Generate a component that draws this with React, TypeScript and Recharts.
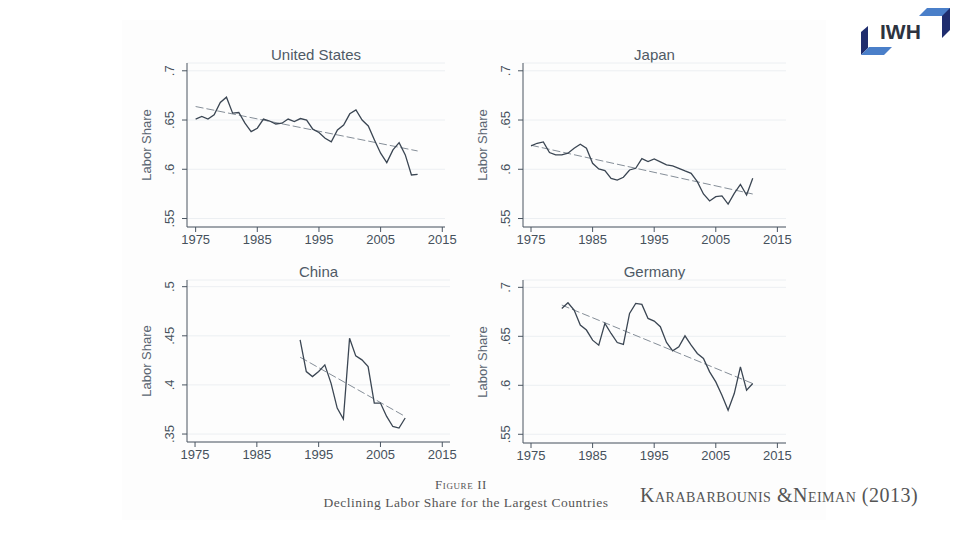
import React from 'react';
import { LineChart, Line, XAxis, YAxis, CartesianGrid } from 'recharts';

// years on the horizontal axis
const yearsFull = [
  1975, 1976, 1977, 1978, 1979, 1980, 1981, 1982, 1983, 1984, 1985, 1986, 1987,
  1988, 1989, 1990, 1991, 1992, 1993, 1994, 1995, 1996, 1997, 1998, 1999, 2000,
  2001, 2002, 2003, 2004, 2005, 2006, 2007, 2008, 2009, 2010, 2011,
];
const yearsChina = [
  1992, 1993, 1994, 1995, 1996, 1997, 1998, 1999, 2000, 2001, 2002, 2003, 2004,
  2005, 2006, 2007, 2008, 2009,
];
const yearsGermany = [
  1980, 1981, 1982, 1983, 1984, 1985, 1986, 1987, 1988, 1989, 1990, 1991, 1992,
  1993, 1994, 1995, 1996, 1997, 1998, 1999, 2000, 2001, 2002, 2003, 2004, 2005,
  2006, 2007, 2008, 2009, 2010, 2011,
];

// labor share
const usShare = [
  0.651, 0.6536, 0.651, 0.6553, 0.6678, 0.6732, 0.657, 0.6576, 0.6468, 0.6383,
  0.6417, 0.651, 0.649, 0.646, 0.6468, 0.651, 0.6485, 0.6515, 0.65, 0.6407,
  0.6373, 0.6315, 0.6278, 0.64, 0.645, 0.6563, 0.6603, 0.65, 0.644, 0.6298,
  0.6163, 0.6068, 0.6197, 0.6271, 0.6146, 0.5942, 0.5949,
];
const japanShare = [
  0.6237, 0.6264, 0.6278, 0.617, 0.6146, 0.6146, 0.6163, 0.6214, 0.6254, 0.6214,
  0.6061, 0.6003, 0.5986, 0.5908, 0.5891, 0.5919, 0.5993, 0.601, 0.6108, 0.6078,
  0.6105, 0.6075, 0.6044, 0.6034, 0.601, 0.5983, 0.5959, 0.5875, 0.5749, 0.5678,
  0.5722, 0.5729, 0.5647, 0.5756, 0.5847, 0.5739, 0.5908,
];
const chinaShare = [
  0.4458, 0.4136, 0.4085, 0.4136, 0.4204, 0.4018, 0.3764, 0.3652, 0.4475, 0.4296,
  0.4255, 0.4187, 0.3815, 0.3815, 0.3679, 0.3577, 0.3561, 0.3663,
];
const germanyShare = [
  0.6785, 0.6843, 0.6768, 0.6615, 0.6564, 0.6461, 0.641, 0.6632, 0.6529, 0.6437,
  0.6417, 0.6734, 0.6836, 0.6826, 0.6683, 0.6656, 0.6598, 0.6437, 0.6352, 0.6393,
  0.6505, 0.641, 0.6325, 0.6274, 0.6137, 0.6035, 0.5899, 0.5745, 0.5916, 0.6188,
  0.595, 0.6018,
];

// fitted trend, value at first and last year
const usTrend = [0.6637, 0.6186];
const japanTrend = [0.6244, 0.5749];
const chinaTrend = [0.4282, 0.3679];
const germanyTrend = [0.6819, 0.6018];

const xTicks = [1975, 1985, 1995, 2005, 2015];
const yTicksMain = [0.55, 0.6, 0.65, 0.7];
const yTicksChina = [0.35, 0.4, 0.45, 0.5];

const FONT = '"Liberation Sans", Arial, sans-serif';
const SERIF = '"Liberation Serif", "DejaVu Serif", serif';
const AXIS = '#4a5561';
const TEXT = '#46515c';

const buildRows = (years: number[], share: number[], trend: number[]) =>
  years.map((year, i) => ({
    year,
    share: share[i],
    trend: i === 0 ? trend[0] : i === years.length - 1 ? trend[1] : null,
  }));

const fmtShare = (v: number) => String(Number(v.toFixed(2))).replace(/^0/, '');

const YTick = (props: any) => {
  const { x, y, payload } = props;
  const bx = x - 6;
  return (
    <text
      x={bx}
      y={y}
      transform={`rotate(-90 ${bx} ${y})`}
      textAnchor="middle"
      fontSize={13}
      fontFamily={FONT}
      fill={TEXT}
    >
      {fmtShare(payload.value)}
    </text>
  );
};

interface PanelProps {
  title: string;
  rows: { year: number; share: number; trend: number | null }[];
  xDomain: [number, number];
  yDomain: [number, number];
  yTicks: number[];
  plotLeft: number;
  plotTop: number;
  plotW: number;
  plotH: number;
}

const AXIS_W = 57;
const TOP_M = 25;
const BOTTOM_H = 25;
const RIGHT_M = 24;

const Panel: React.FC<PanelProps> = ({ title, rows, xDomain, yDomain, yTicks, plotLeft, plotTop, plotW, plotH }) => {
  const left = plotLeft - AXIS_W;
  const top = plotTop - TOP_M;
  return (
    <>
      <div
        style={{
          position: 'absolute',
          left: plotLeft + plotW / 2 - 100,
          top: plotTop - 17,
          width: 200,
          textAlign: 'center',
          fontFamily: FONT,
          fontSize: 15,
          color: '#4f5a66',
          lineHeight: '18px',
        }}
      >
        {title}
      </div>
      <div
        style={{
          position: 'absolute',
          left: plotLeft - 40 - 50,
          top: plotTop + plotH / 2 - 9,
          width: 100,
          textAlign: 'center',
          fontFamily: FONT,
          fontSize: 13,
          color: '#5a6571',
          lineHeight: '18px',
          transform: 'rotate(-90deg)',
        }}
      >
        Labor Share
      </div>
      <div style={{ position: 'absolute', left, top }}>
        <LineChart
          width={AXIS_W + plotW + RIGHT_M}
          height={TOP_M + plotH + BOTTOM_H}
          data={rows}
          margin={{ top: TOP_M, right: RIGHT_M, left: 0, bottom: 0 }}
        >
          <CartesianGrid vertical={false} stroke="#eceff2" strokeWidth={1} />
          <XAxis
            dataKey="year"
            type="number"
            domain={xDomain}
            allowDataOverflow
            ticks={xTicks}
            interval={0}
            height={BOTTOM_H}
            tickSize={5}
            tickMargin={3}
            stroke={AXIS}
            tick={{ fontSize: 13, fontFamily: FONT, fill: TEXT }}
          />
          <YAxis
            type="number"
            domain={yDomain}
            allowDataOverflow
            ticks={yTicks}
            interval={0}
            width={AXIS_W}
            tickSize={5}
            tickMargin={2}
            stroke={AXIS}
            tick={<YTick />}
          />
          <Line
            dataKey="trend"
            stroke="#858e98"
            strokeWidth={1}
            strokeDasharray="8 3"
            dot={false}
            connectNulls
            isAnimationActive={false}
          />
          <Line
            dataKey="share"
            stroke="#3b4653"
            strokeWidth={1.3}
            dot={false}
            isAnimationActive={false}
          />
        </LineChart>
      </div>
    </>
  );
};

const Logo = () => (
  <svg width={100} height={60} style={{ position: 'absolute', left: 855, top: 0 }}>
    <polygon points="87,8 95,8 95,30 87,38" fill="#1f2d6e" />
    <polygon points="72,8 95,8 87,16 64,16" fill="#4a7fc9" />
    <polygon points="6,32 13,26 13,48 6,55" fill="#1f2d6e" />
    <polygon points="14,47 37,47 29,55 6,55" fill="#4a7fc9" />
    <text x={25} y={39} fontFamily={FONT} fontWeight="bold" fontSize={21} fill="#2d3340">
      IWH
    </text>
  </svg>
);

export default function App() {
  return (
    <div style={{ position: 'absolute', left: 0, top: 0, width: 960, height: 540, background: '#ffffff', overflow: 'hidden' }}>
      <div style={{ position: 'absolute', left: 122, top: 20, width: 704, height: 500, background: '#fdfdfd' }} />
      <Logo />
      <Panel
        title="United States"
        rows={buildRows(yearsFull, usShare, usTrend)}
        xDomain={[1973.6, 2015.44]}
        yDomain={[0.5414, 0.7079]}
        yTicks={yTicksMain}
        plotLeft={187}
        plotTop={63}
        plotW={258}
        plotH={164}
      />
      <Panel
        title="Japan"
        rows={buildRows(yearsFull, japanShare, japanTrend)}
        xDomain={[1973.7, 2016.4]}
        yDomain={[0.5414, 0.7079]}
        yTicks={yTicksMain}
        plotLeft={523}
        plotTop={63}
        plotW={263}
        plotH={164}
      />
      <Panel
        title="China"
        rows={buildRows(yearsChina, chinaShare, chinaTrend)}
        xDomain={[1973.7, 2016.25]}
        yDomain={[0.3419, 0.5068]}
        yTicks={yTicksChina}
        plotLeft={187}
        plotTop={280}
        plotW={263}
        plotH={162}
      />
      <Panel
        title="Germany"
        rows={buildRows(yearsGermany, germanyShare, germanyTrend)}
        xDomain={[1973.7, 2016.4]}
        yDomain={[0.5411, 0.7075]}
        yTicks={yTicksMain}
        plotLeft={523}
        plotTop={280}
        plotW={263}
        plotH={163}
      />
      <div
        style={{
          position: 'absolute',
          left: 261,
          top: 477,
          width: 400,
          textAlign: 'center',
          fontFamily: SERIF,
          fontSize: 13,
          fontVariant: 'small-caps',
          color: '#555',
          letterSpacing: 0.6,
          lineHeight: '16px',
        }}
      >
        Figure II
      </div>
      <div
        style={{
          position: 'absolute',
          left: 216,
          top: 495,
          width: 500,
          textAlign: 'center',
          fontFamily: SERIF,
          fontSize: 13.5,
          color: '#555',
          letterSpacing: 0.5,
          lineHeight: '16px',
        }}
      >
        Declining Labor Share for the Largest Countries
      </div>
      <div
        style={{
          position: 'absolute',
          left: 640,
          top: 483,
          fontFamily: SERIF,
          fontSize: 20,
          fontVariant: 'small-caps',
          color: '#555',
          letterSpacing: 0.5,
          whiteSpace: 'nowrap',
          lineHeight: '24px',
        }}
      >
        Karabarbounis &amp;Neiman (2013)
      </div>
    </div>
  );
}
